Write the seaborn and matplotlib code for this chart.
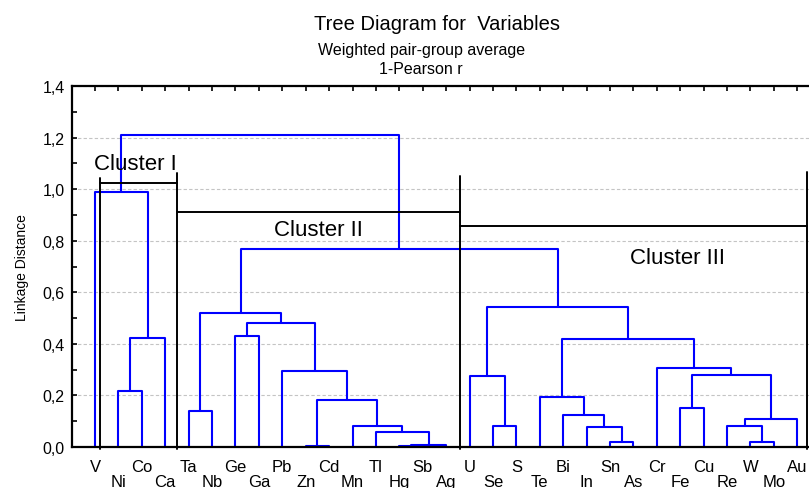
import numpy as np
import pandas as pd
import seaborn as sns
import matplotlib.pyplot as plt
from matplotlib.ticker import MultipleLocator, FuncFormatter

# --- data ---
leaves = ["V", "Ni", "Co", "Ca", "Ta", "Nb", "Ge", "Ga", "Pb", "Zn", "Cd", "Mn",
          "Tl", "Hg", "Sb", "Ag", "U", "Se", "S", "Te", "Bi", "In", "Sn", "As",
          "Cr", "Fe", "Cu", "Re", "W", "Mo", "Au"]

# each merge joins merge_a[i] and merge_b[i] at merge_h[i]
# (a string is a leaf, an int is an earlier merge)
merge_a = ["Hg", "Zn", 0, "Tl", "Mn", 1, "Pb", "Ge", 7, "Ta",
           9, "Ni", 11, "V", "Se", "U", "Sn", "In", "Bi", "Te",
           "W", "Re", 21, "Fe", 23, "Cr", 19, 15, 10, 13]
merge_b = ["Sb", "Cd", "Ag", 2, 3, 4, 5, "Ga", 6, "Nb",
           8, "Co", "Ca", 12, "S", 14, "As", 16, 17, 18,
           "Mo", 20, "Au", "Cu", 22, 24, 25, 26, 27, 28]
merge_h = [0.003, 0.004, 0.009, 0.060, 0.080, 0.184, 0.293, 0.429, 0.481, 0.138,
           0.518, 0.217, 0.424, 0.990, 0.083, 0.277, 0.019, 0.079, 0.125, 0.193,
           0.018, 0.080, 0.107, 0.152, 0.280, 0.306, 0.418, 0.544, 0.768, 1.210]

# cluster brackets
cluster_names = ["Cluster I", "Cluster II", "Cluster III"]
cluster_lo = [1.22, 4.5, 16.6]
cluster_hi = [4.5, 16.6, 31.4]
cluster_bar = [1.025, 0.911, 0.858]
cluster_top = [1.043, 1.064, 1.05, 1.065]   # tops of the dividing lines
cluster_label_x = [2.72, 10.56, 25.9]
cluster_label_y = [1.10, 0.842, 0.735]

# --- build the dendrogram segments ---
pos = {name: i + 1 for i, name in enumerate(leaves)}
merge_x = []

def node(ref):
    if isinstance(ref, str):
        return pos[ref], 0.0
    return merge_x[ref], merge_h[ref]

rows = []
for i, (a, b, h) in enumerate(zip(merge_a, merge_b, merge_h)):
    xa, ha = node(a)
    xb, hb = node(b)
    merge_x.append((xa + xb) / 2)
    for k, (x, y) in enumerate([(xa, ha), (xa, h), (xb, h), (xb, hb)]):
        rows.append({"seg": i, "order": k, "x": x, "y": y})
seg_df = pd.DataFrame(rows)

# --- figure ---
sns.set_style("white")
plt.rcParams['font.family'] = ['Liberation Sans', 'DejaVu Sans']
plt.rcParams.update({"text.color": "black", "axes.labelcolor": "black",
                     "xtick.color": "black", "ytick.color": "black"})

fig = plt.figure(figsize=(8.09, 4.89), dpi=100)
ax = fig.add_axes([71.6 / 809, 41 / 489, 737.4 / 809, 361 / 489])

sns.lineplot(data=seg_df, x="x", y="y", units="seg", estimator=None, sort=False,
             color="#0000ff", lw=1.5, ax=ax, legend=False)

# black cluster brackets
dividers = cluster_lo[:1] + cluster_hi
for x, top in zip(dividers, cluster_top):
    ax.plot([x, x], [-0.008, top], color="black", lw=1.4, clip_on=False, zorder=3)
for lo, hi, yb in zip(cluster_lo, cluster_hi, cluster_bar):
    ax.plot([lo, hi], [yb, yb], color="black", lw=1.4, zorder=3)
for name, lx, ly in zip(cluster_names, cluster_label_x, cluster_label_y):
    ax.text(lx, ly, name, ha="center", va="center", fontsize=16)

ax.set_xlim(0, 31.5)
ax.set_ylim(0, 1.4)
ax.yaxis.set_major_locator(MultipleLocator(0.2))
ax.yaxis.set_minor_locator(MultipleLocator(0.1))
ax.yaxis.set_major_formatter(FuncFormatter(lambda v, p: f"{v:.1f}".replace(".", ",")))
ax.set_xticks(range(1, len(leaves) + 1))
ax.set_xticklabels([n if i % 2 == 0 else "\n" + n for i, n in enumerate(leaves)])
for lab in ax.get_xticklabels():
    lab.set_linespacing(1.0)

ax.grid(axis="y", color="#c4c4c4", linestyle=(0, (3, 2)), lw=0.8)
ax.set_axisbelow(True)

for s in ["left", "bottom", "top"]:
    ax.spines[s].set_color("black")
    ax.spines[s].set_linewidth(1.6)
ax.spines["right"].set_visible(False)

ax.tick_params(axis="x", direction="in", length=3.5, width=1.2, top=True,
               labelsize=12, pad=8.5)
ax.tick_params(axis="y", which="both", direction="in", length=3.5, width=1.2,
               left=True, labelsize=11.5, pad=5)
ax.set_xlabel("")
ax.set_ylabel("Linkage Distance", fontsize=10, labelpad=10)

fig.text(437 / 809, 1 - 24 / 489, "Tree Diagram for  Variables", ha="center", va="center", fontsize=14.5)
fig.text(422 / 809, 1 - 50 / 489, "Weighted pair-group average", ha="center", va="center", fontsize=11.5)
fig.text(421 / 809, 1 - 69 / 489, "1-Pearson r", ha="center", va="center", fontsize=11.5)

fig.savefig("out.png", dpi=100)
